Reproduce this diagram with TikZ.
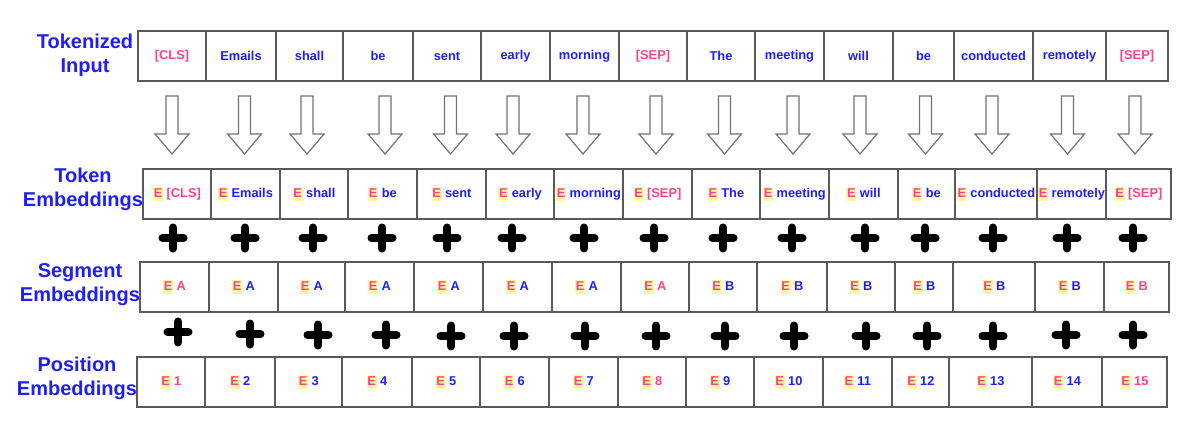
\documentclass[tikz,border=0pt]{standalone}
\usepackage{fontspec}
\setmainfont{Liberation Sans}
\definecolor{tblue}{RGB}{30,30,245}
\definecolor{tpink}{RGB}{255,65,135}
\definecolor{hlyel}{RGB}{255,250,160}
\definecolor{boxgray}{RGB}{90,90,90}
\newcommand\hE{{\setlength{\fboxsep}{0.7pt}\colorbox{hlyel}{\textcolor{tpink}{\rule[-3.3pt]{0pt}{13pt}E}}}}
\newcommand\Pk[1]{\textcolor{tpink}{#1}}
\begin{document}
\begin{tikzpicture}[x=1pt,y=-1pt,
  cell/.style={draw=boxgray, line width=1.3pt, rectangle, inner sep=0pt,
    minimum height=50pt, font=\fontsize{12.8}{15}\selectfont\bfseries, text=tblue},
  rowlabel/.style={font=\fontsize{20}{24}\selectfont\bfseries, text=tblue, align=center, inner sep=0pt},
  hollow/.style={draw=boxgray!85, line width=1.2pt, fill=white, line join=miter},
  plusline/.style={line width=8pt, line cap=round, draw=black},
  downarrow/.pic={\draw[hollow] (-6,0) -- (-6,38) -- (-17,38) -- (0,58) -- (17,38) -- (6,38) -- (6,0) -- cycle;},
  plussign/.pic={\draw[plusline] (-10.5,0) -- (10.5,0) (0,-10.5) -- (0,10.5);}
]
\useasboundingbox[fill=white] (0,0) rectangle (1199,422);

% row labels
\node[rowlabel] (l1) at (85,55) {Tokenized\\Input};
\node[rowlabel] (l2) at (83,189.5) {Token\\Embeddings};
\node[rowlabel] (l3) at (80,285) {Segment\\Embeddings};
\node[rowlabel] (l4) at (77,378.5) {Position\\Embeddings};

% row 1: tokenized input
\foreach \a/\b/\t [count=\i] in {138/206/\Pk{[CLS]}, 206/276/Emails, 276/343/shall, 343/413/be,
  413/481/sent, 481/550/early, 550/619/morning, 619/687/\Pk{[SEP]}, 687/755/The,
  755/824/meeting, 824/893/will, 893/954/be, 954/1033/conducted, 1033/1106/remotely,
  1106/1168/\Pk{[SEP]}}
  \node[cell, minimum width={(\b-\a)*1pt}] (t\i) at ({(\a+\b)/2},56) {\t};

% row 2: token embeddings
\foreach \a/\b/\t [count=\i] in {143/211/\hE\ \Pk{[CLS]}, 211/280/\hE\ Emails, 280/348/\hE\ shall,
  348/417/\hE\ be, 417/486/\hE\ sent, 486/554/\hE\ early, 554/623/\hE\ morning,
  623/692/\hE\ \Pk{[SEP]}, 692/760/\hE\ The, 760/829/\hE\ meeting, 829/898/\hE\ will,
  898/955/\hE\ be, 955/1037/\hE\ conducted, 1037/1106/\hE\ remotely, 1106/1171/\hE\ \Pk{[SEP]}}
  \node[cell, minimum width={(\b-\a)*1pt}] (k\i) at ({(\a+\b)/2},194) {\t};

% row 3: segment embeddings
\foreach \a/\b/\t [count=\i] in {140/209/\hE\ \Pk{A}, 209/278/\hE\ A, 278/345/\hE\ A,
  345/414/\hE\ A, 414/483/\hE\ A, 483/552/\hE\ A, 552/621/\hE\ A, 621/689/\hE\ \Pk{A},
  689/757/\hE\ B, 757/827/\hE\ B, 827/895/\hE\ B, 895/953/\hE\ B, 953/1035/\hE\ B,
  1035/1104/\hE\ B, 1104/1169/\hE\ \Pk{B}}
  \node[cell, minimum width={(\b-\a)*1pt}] (s\i) at ({(\a+\b)/2},287) {\t};

% row 4: position embeddings
\foreach \a/\b/\t [count=\i] in {137/205/\hE\ \Pk{1}, 205/275/\hE\ 2, 275/342/\hE\ 3,
  342/412/\hE\ 4, 412/480/\hE\ 5, 480/549/\hE\ 6, 549/618/\hE\ 7, 618/686/\hE\ \Pk{8},
  686/754/\hE\ 9, 754/823/\hE\ 10, 823/892/\hE\ 11, 892/949/\hE\ 12, 949/1032/\hE\ 13,
  1032/1102/\hE\ 14, 1102/1167/\hE\ \Pk{15}}
  \node[cell, minimum width={(\b-\a)*1pt}] (p\i) at ({(\a+\b)/2},382) {\t};

% hollow arrows
\foreach \x [count=\i] in {172,244.5,307,385,450.5,513,583,656,724.5,793,860,925.5,992,1067.5,1135}
  \pic (ar\i) at (\x,96) {downarrow};

% plus signs between token and segment rows
\foreach \x [count=\i] in {173,245,313,382,447,512,584,654,723,792,865,925,993,1067,1133}
  \pic (pa\i) at (\x,238) {plussign};

% plus signs between segment and position rows
\foreach \x/\y [count=\i] in {178/332,250/334,318/335,386/335,451/336,514/336,585/336,656/336,
  725/336,794/336,866/336,927/336,993/336,1066/335,1133/335}
  \pic (pb\i) at (\x,\y) {plussign};
\end{tikzpicture}
\end{document}
